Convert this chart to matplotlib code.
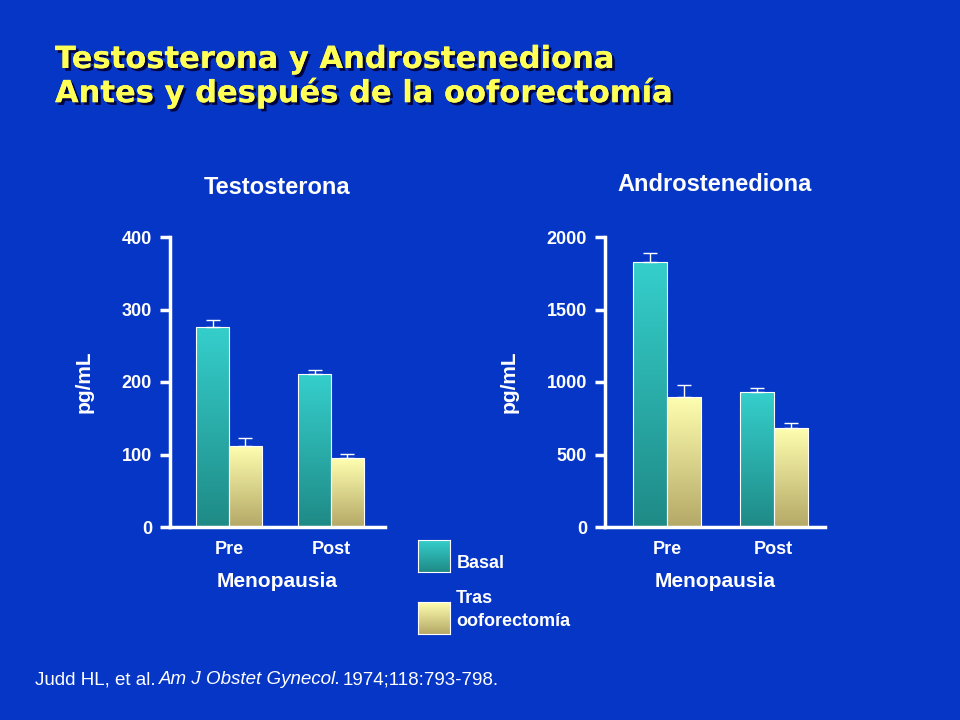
import matplotlib
matplotlib.use("Agg")
import matplotlib.pyplot as plt
import numpy as np
from matplotlib.colors import LinearSegmentedColormap
import matplotlib.patheffects as pe

groups = ["Pre", "Post"]
testo_basal = [276, 211]
testo_basal_err = [9, 6]
testo_tras = [112, 95]
testo_tras_err = [11, 6]
andro_basal = [1828, 931]
andro_basal_err = [62, 28]
andro_tras = [897, 683]
andro_tras_err = [82, 34]

BG = "#0636c6"
plt.rcParams["font.family"] = "Liberation Sans"
fig = plt.figure(figsize=(9.6, 7.2), dpi=100, facecolor=BG)

teal = LinearSegmentedColormap.from_list("t", ["#1f8a86", "#35cfcc"])
yel = LinearSegmentedColormap.from_list("y", ["#b4a866", "#ffffb0"])

def gbar(ax, x, h, w, cmap):
    bars = ax.bar(x, h, w, color="none", edgecolor="white", linewidth=0.8, zorder=3)
    grad = np.linspace(0, 1, 256).reshape(-1, 1)
    for b in bars:
        x0, y0 = b.get_x(), b.get_y()
        im = ax.imshow(grad, cmap=cmap, origin="lower", aspect="auto",
                       extent=[x0, x0 + b.get_width(), y0, y0 + b.get_height()], zorder=2)
        im.set_clip_path(b)
    return bars

def panel(rect, xlim, ymax, ticks, basal, be, tras, te, title, title_y):
    ax = fig.add_axes(rect)
    ax.set_facecolor("none")
    w = 0.32
    x = np.arange(len(groups))
    gbar(ax, x - w / 2, basal, w, teal)
    gbar(ax, x + w / 2, tras, w, yel)
    ax.errorbar(x - w / 2, basal, yerr=[np.zeros(2), be], fmt="none", ecolor="white", elinewidth=1, capsize=5, zorder=4)
    ax.errorbar(x + w / 2, tras, yerr=[np.zeros(2), te], fmt="none", ecolor="white", elinewidth=1, capsize=5, zorder=4)
    ax.set_xlim(*xlim)
    ax.set_ylim(0, ymax)
    ax.set_yticks(ticks)
    ax.set_yticklabels([str(t) for t in ticks])
    ax.set_xticks(x)
    ax.set_xticklabels(groups)
    for s in ["top", "right"]:
        ax.spines[s].set_visible(False)
    for s in ["left", "bottom"]:
        ax.spines[s].set_color("white")
        ax.spines[s].set_linewidth(2.5)
    ax.tick_params(axis="y", colors="white", width=2.5, length=7, labelsize=13, pad=6)
    ax.tick_params(axis="x", length=0, colors="white", labelsize=13, pad=10)
    for l in ax.get_xticklabels() + ax.get_yticklabels():
        l.set_fontweight("bold")
    ax.set_ylabel("pg/mL", color="white", fontsize=15, fontweight="bold", labelpad=20)
    ax.set_xlabel("Menopausia", color="white", fontsize=15, fontweight="bold", labelpad=10)
    ax.set_title(title, color="white", fontsize=17, fontweight="bold", y=title_y)
    return ax

panel([170/960, 1-527/720, 215/960, 290/720], (-0.58, 1.53), 400, [0, 100, 200, 300, 400],
      testo_basal, testo_basal_err, testo_tras, testo_tras_err, "Testosterona", 1.12)
panel([605/960, 1-527/720, 220/960, 290/720], (-0.58, 1.48), 2000, [0, 500, 1000, 1500, 2000],
      andro_basal, andro_basal_err, andro_tras, andro_tras_err, "Androstenediona", 1.13)

title = fig.text(55/960, 1-45/720, "Testosterona y Androstenediona\nAntes y después de la ooforectomía",
                 color="#ffff55", fontsize=22, fontweight="bold", family="DejaVu Sans",
                 va="top", linespacing=1.15)
title.set_path_effects([pe.withSimplePatchShadow(offset=(2, -2), shadow_rgbFace="#000033", alpha=0.9), pe.Normal()])

# legend
grad = np.linspace(0, 1, 256).reshape(-1, 1)
for y0, cmap in [(540, teal), (602, yel)]:
    lax = fig.add_axes([418/960, 1-(y0+32)/720, 32/960, 32/720])
    lax.imshow(grad, cmap=cmap, origin="lower", aspect="auto")
    lax.set_xticks([]); lax.set_yticks([])
    for s in lax.spines.values():
        s.set_color("white"); s.set_linewidth(0.8)
fig.text(457/960, 1-563/720, "Basal", color="white", fontsize=13, fontweight="bold", va="center")
fig.text(456/960, 1-610/720, "Tras\nooforectomía", color="white", fontsize=13, fontweight="bold", va="center", linespacing=1.4)

fig.text(35/960, 1-680/720, "Judd HL, et al.", color="white", fontsize=13.5, va="center")
fig.text(159/960, 1-680/720, "Am J Obstet Gynecol.", color="white", fontsize=13.5, va="center", style="italic")
fig.text(343/960, 1-680/720, "1974;118:793-798.", color="white", fontsize=13.5, va="center")

fig.savefig("out.png", dpi=100, facecolor=BG)
